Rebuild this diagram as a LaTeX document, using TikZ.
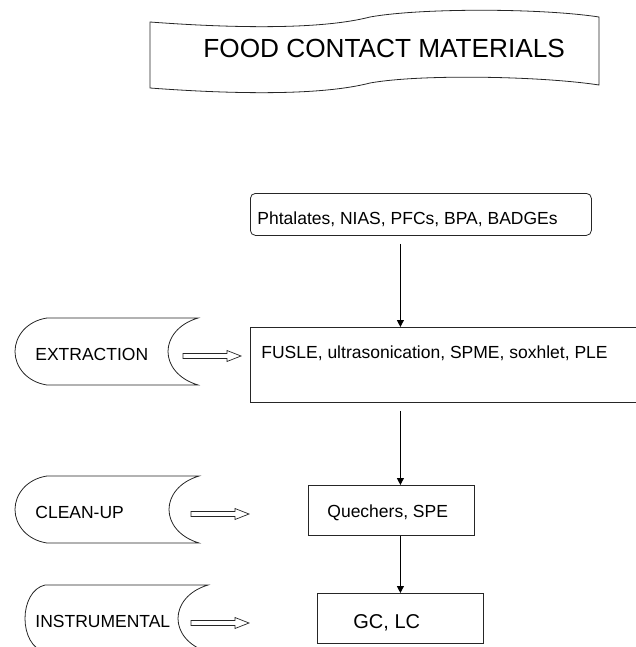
\documentclass[tikz,border=0pt]{standalone}
\usepackage{fontspec}
\setmainfont{Liberation Sans}
\usetikzlibrary{arrows.meta,calc}
\newcommand\hollowarrow[3]{%
  \draw[hollow] (#1,#3-2.5) -- (#2-14,#3-2.5) -- (#2-14,#3-5.5) -- (#2,#3)
    -- (#2-14,#3+5.5) -- (#2-14,#3+2.5) -- (#1,#3+2.5) -- cycle;}
\begin{document}
\begin{tikzpicture}[x=1pt,y=-1pt, line width=0.8pt, draw=black!85,
  box/.style={draw=black!85, rectangle, inner sep=0pt},
  lbl/.style={font=\fontsize{17.5}{20}\selectfont, inner sep=0pt, anchor=base west},
  flow/.style={draw=black, -{Triangle[length=7pt,width=7pt]}, line width=0.9pt},
  hollow/.style={draw=black!85, line width=0.7pt, fill=white},
  outline/.style={draw=black!85, line width=0.8pt}]
\useasboundingbox (0,0) rectangle (636,647);
\clip (0,0) rectangle (636,647);

% title banner
\draw[outline] (150,22) .. controls (230,28) and (320,30) .. (370,17)
   .. controls (420,8) and (540,8) .. (599,17) -- (599,85)
   .. controls (540,76) and (420,74) .. (370,83)
   .. controls (320,96) and (230,94) .. (150,88) -- cycle;
\node[font=\fontsize{26.2}{30}\selectfont, inner sep=0pt, anchor=base west] (title) at (203,58) {FOOD CONTACT MATERIALS};

% flow boxes
\node[box, rounded corners=5pt, minimum width=341pt, minimum height=42pt, anchor=north west] (src) at (250,193) {};
\node[lbl] (srct) at (257,224) {Phtalates, NIAS, PFCs, BPA, BADGEs};

\node[box, minimum width=400pt, minimum height=75pt, anchor=north west] (ext) at (250,327) {};
\node[lbl] (extt) at (261,358) {FUSLE, ultrasonication, SPME, soxhlet, PLE};

\node[box, minimum width=166pt, minimum height=50pt, anchor=north west] (cln) at (308,485) {};
\node[lbl] (clnt) at (327,517) {Quechers, SPE};

\node[box, minimum width=166pt, minimum height=50pt, anchor=north west] (ins) at (317,593) {};
\node[lbl, font=\fontsize{20}{24}\selectfont] (inst) at (353,628) {GC, LC};

\draw[flow, shorten <=8pt] (src.south -| ins.north) -- (ext.north -| ins.north);
\draw[flow, shorten <=8pt] (ext.south -| ins.north) -- (cln.north -| ins.north);
\draw[flow] (cln.south -| ins.north) -- (ins.north);

% stage shapes
\draw[outline] (47,318) -- (198,318) .. controls (178,324) and (168,338) .. (168,351.5)
   .. controls (168,365) and (178,379) .. (198,385) -- (47,385)
   .. controls (27,382) and (15,367) .. (15,351.5)
   .. controls (15,336) and (27,321) .. (47,318) -- cycle;
\node[lbl] (st1) at (35,360) {EXTRACTION};
\hollowarrow{183}{241}{356}

\draw[outline] (47,476) -- (199,476) .. controls (179,482) and (169,496) .. (169,509.5)
   .. controls (169,523) and (179,537) .. (199,543) -- (47,543)
   .. controls (27,540) and (15,525) .. (15,509.5)
   .. controls (15,494) and (27,479) .. (47,476) -- cycle;
\node[lbl] (st2) at (35,518) {CLEAN-UP};
\hollowarrow{191}{249}{514}

\draw[outline] (45,585) -- (208,585) .. controls (188,591) and (178,605) .. (178,618.5)
   .. controls (178,632) and (188,646) .. (208,652) -- (45,652)
   .. controls (32,649) and (25,634) .. (25,618.5)
   .. controls (25,603) and (32,588) .. (45,585) -- cycle;
\node[lbl] (st3) at (35,627) {INSTRUMENTAL};
\hollowarrow{191}{249}{623}
\end{tikzpicture}
\end{document}
